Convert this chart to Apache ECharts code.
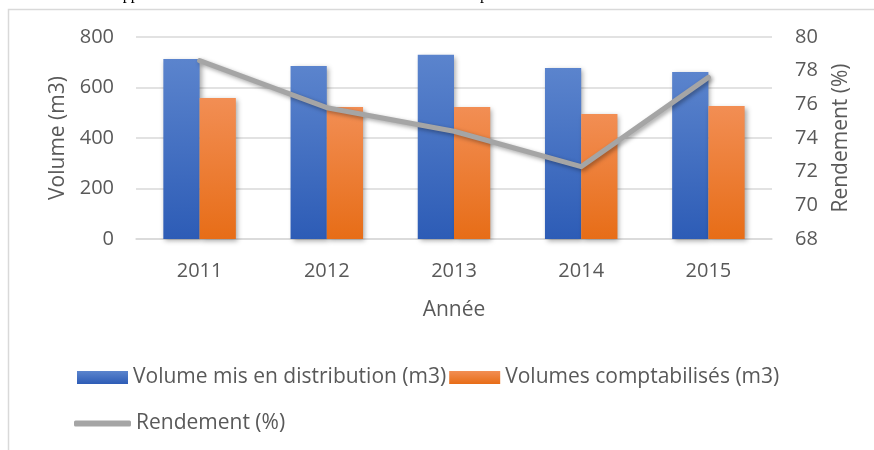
<!DOCTYPE html>
<html>
<head>
<meta charset="utf-8">
<script src="https://cdn.jsdelivr.net/npm/echarts@6/dist/echarts.min.js"></script>
<style>
html,body{margin:0;padding:0;background:#fff;}
#chart{width:874px;height:450px;}
</style>
</head>
<body>
<div id="chart"></div>
<script>
var categories = ['2011', '2012', '2013', '2014', '2015'];
var volumeDistribue = [713, 685, 730, 677, 661];
var volumeComptabilise = [558, 523, 523, 495, 527];
var rendement = [78.6, 75.8, 74.4, 72.3, 77.6];
var leftTicks = [0, 800, 200];   // min, max, interval
var rightTicks = [68, 80, 2];

var FONT = '"Open Sans", "Noto Sans", sans-serif';
var GREY = '#595959';

var chart = echarts.init(document.getElementById('chart'), null, {renderer: 'canvas'});
chart.setOption({
  animation: false,
  backgroundColor: '#ffffff',
  textStyle: {fontFamily: FONT},
  graphic: [
    {type: 'rect', left: 6, top: 7, silent: true,
     shape: {x: 0, y: 0, width: 1000, height: 600},
     style: {fill: 'none', stroke: '#d9d9d9', lineWidth: 1.5}},
    {type: 'text', left: 30, top: -13, silent: true,
     style: {text: 'Tableau 3 : Rapport entre volumes mis en distribution et volumes comptabilisés',
             font: '16px "Liberation Serif", serif', fill: '#000'}}
  ],
  grid: {left: 136, right: 102, top: 37, bottom: 211, containLabel: false},
  legend: [
    {data: ['Volume mis en distribution (m3)', 'Volumes comptabilisés (m3)'],
     left: 72, top: 362, itemWidth: 51, itemHeight: 13, itemGap: 3, icon: 'rect',
     textStyle: {fontFamily: FONT, fontSize: 21, color: GREY}},
    {data: ['Rendement (%)'],
     left: 69, top: 408, itemWidth: 57, itemHeight: 6, itemGap: 4, icon: 'roundRect',
     textStyle: {fontFamily: FONT, fontSize: 21, color: GREY}}
  ],
  xAxis: {
    type: 'category', data: categories,
    name: 'Année', nameLocation: 'middle', nameGap: 61,
    nameTextStyle: {fontFamily: FONT, fontSize: 21, color: GREY},
    axisLine: {show: true, lineStyle: {color: '#d9d9d9', width: 1.5}},
    axisTick: {show: false},
    axisLabel: {fontFamily: FONT, fontSize: 20, color: GREY, margin: 22}
  },
  yAxis: [
    {type: 'value', min: leftTicks[0], max: leftTicks[1], interval: leftTicks[2],
     name: 'Volume (m3)', nameLocation: 'middle', nameGap: 66, nameRotate: 90,
     nameTextStyle: {fontFamily: FONT, fontSize: 21, color: GREY},
     axisLine: {show: false}, axisTick: {show: false},
     axisLabel: {fontFamily: FONT, fontSize: 20, color: GREY, margin: 22},
     splitLine: {show: true, lineStyle: {color: '#d9d9d9', width: 1.5}}},
    {type: 'value', min: rightTicks[0], max: rightTicks[1], interval: rightTicks[2],
     name: 'Rendement (%)', nameLocation: 'middle', nameGap: 59, nameRotate: 90,
     nameTextStyle: {fontFamily: FONT, fontSize: 21, color: GREY},
     axisLine: {show: false}, axisTick: {show: false},
     axisLabel: {fontFamily: FONT, fontSize: 20, color: GREY, margin: 23},
     splitLine: {show: false}}
  ],
  series: [
    {name: 'Volume mis en distribution (m3)', type: 'bar', data: volumeDistribue,
     barGap: '0%', barCategoryGap: '43%',
     itemStyle: {
       color: new echarts.graphic.LinearGradient(0, 0, 0, 1, [
         {offset: 0, color: '#5b84cd'}, {offset: 1, color: '#2d5cb6'}]),
       shadowColor: 'rgba(0,0,0,0.35)', shadowBlur: 5, shadowOffsetX: 2, shadowOffsetY: 2}},
    {name: 'Volumes comptabilisés (m3)', type: 'bar', data: volumeComptabilise,
     itemStyle: {
       color: new echarts.graphic.LinearGradient(0, 0, 0, 1, [
         {offset: 0, color: '#f28e54'}, {offset: 1, color: '#e76d17'}]),
       shadowColor: 'rgba(0,0,0,0.35)', shadowBlur: 5, shadowOffsetX: 2, shadowOffsetY: 2}},
    {name: 'Rendement (%)', type: 'line', yAxisIndex: 1, data: rendement,
     symbol: 'none', showSymbol: false,
     itemStyle: {color: '#a5a5a5'},
     lineStyle: {color: '#a5a5a5', width: 5, cap: 'round', join: 'round',
       shadowColor: 'rgba(0,0,0,0.35)', shadowBlur: 4, shadowOffsetX: 2, shadowOffsetY: 2}}
  ]
});
</script>
</body>
</html>
